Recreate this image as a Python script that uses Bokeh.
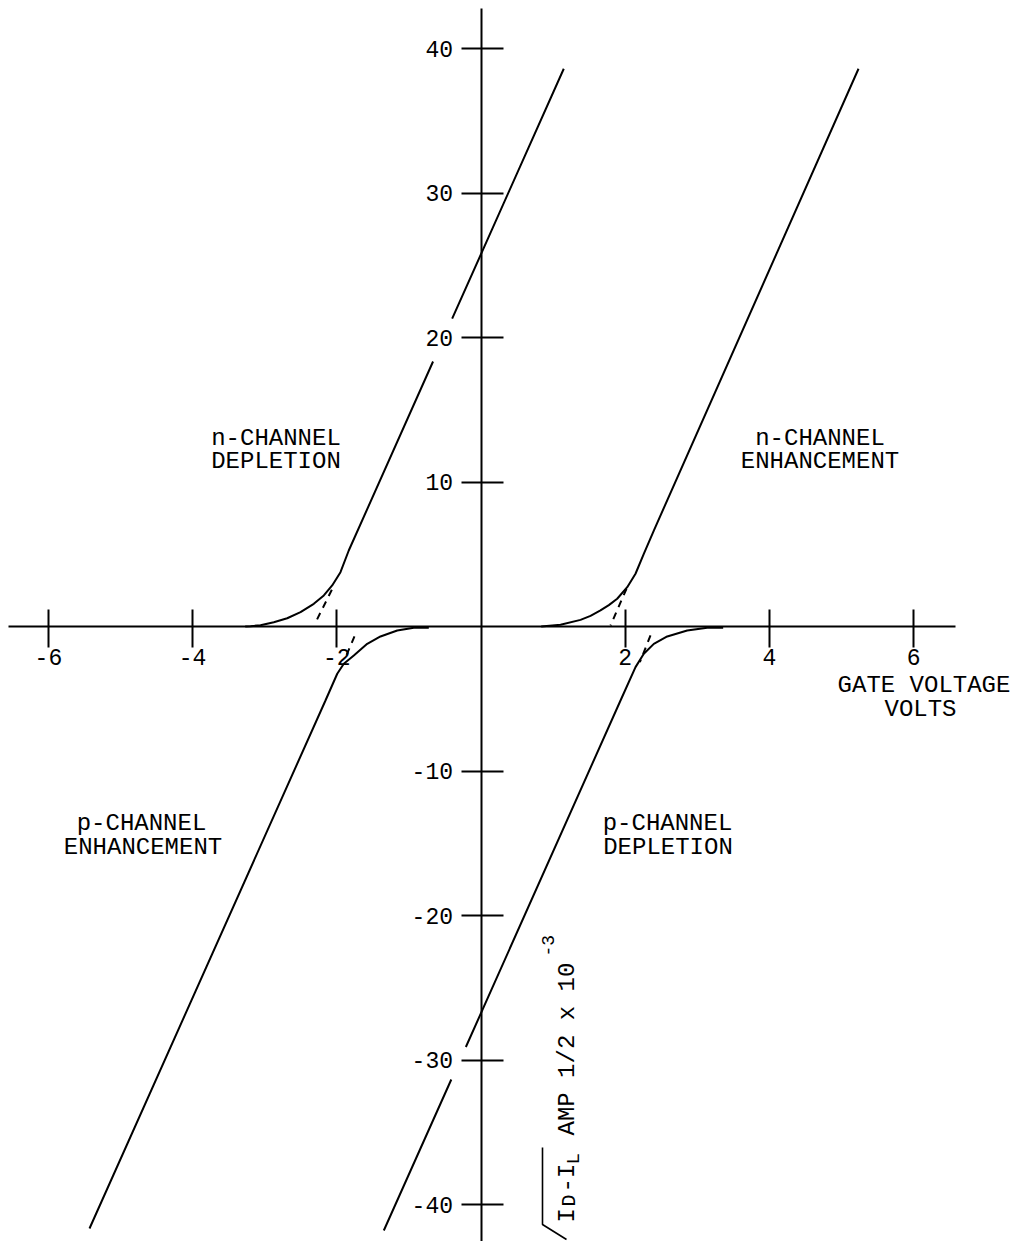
import numpy as np
from bokeh.plotting import figure
from bokeh.models import Range1d, LinearAxis, FixedTicker, Label
from bokeh.embed import file_html
from bokeh.resources import INLINE

nan = np.nan

# ---- data (gate voltage V, sqrt(ID-IL) amp^1/2 x 1e-3) ----
x_ticks = [-6, -4, -2, 2, 4, 6]
x_tick_labels = ["-6", "-4", "-2", "2", "4", "6"]
y_ticks = [-40, -30, -20, -10, 10, 20, 30, 40]
y_tick_labels = ["-40", "-30", "-20", "-10", "10", "20", "30", "40"]

# n-channel depletion (upper left)
ndep_x = [-3.27, -3.197, -3.058, -2.874, -2.688, -2.503, -2.319, -2.180, -2.064, -1.949, -1.834, -0.665, nan, -0.40, 1.148]
ndep_y = [0.0, 0.02, 0.09, 0.30, 0.57, 0.99, 1.57, 2.15, 2.84, 3.76, 5.26, 18.34, nan, 21.3, 38.6]
# n-channel enhancement (upper right)
nenh_x = [0.835, 1.103, 1.380, 1.519, 1.657, 1.773, 1.889, 2.028, 2.143, 2.258, 2.397, 5.236]
nenh_y = [0.0, 0.12, 0.46, 0.74, 1.11, 1.48, 1.92, 2.72, 3.65, 5.03, 6.64, 38.6]
# p-channel enhancement (lower left)
penh_x = [-0.724, -0.932, -1.162, -1.394, -1.578, -1.764, -1.903, -1.994, -2.157, -5.43]
penh_y = [-0.09, -0.09, -0.28, -0.69, -1.20, -2.01, -2.58, -3.27, -5.12, -41.66]
# p-channel depletion (lower right)
pdep_x = [3.359, 3.137, 2.860, 2.583, 2.397, 2.258, 2.143, 1.935, -0.21, nan, -0.412, -1.348]
pdep_y = [-0.09, -0.09, -0.28, -0.69, -1.20, -1.89, -2.81, -5.12, -29.1, nan, -31.35, -41.8]

# dashed extrapolations of the straight parts
ext_xs = [[-2.069, -2.309], [2.018, 1.796], [-1.755, -1.883], [2.351, 2.203]]
ext_ys = [[2.54, 0.14], [2.61, 0.07], [-0.69, -2.19], [-0.62, -2.47]]

# ---- figure geometry ----
PXX = 72.1   # px per volt
PXY = 14.45  # px per unit
W, H = 1018, 1241
xs = -480.5 / PXX
xe = xs + W / PXX
ye = 626 / PXY
ys = ye - H / PXY


def X(px):
    return xs + px / PXX


def Y(py):
    return ye - py / PXY


p = figure(width=W, height=H, x_range=Range1d(xs, xe), y_range=Range1d(ys, ye),
           x_axis_type=None, y_axis_type=None, output_backend="svg",
           toolbar_location=None, min_border=0)
p.outline_line_color = None
p.background_fill_color = "white"
p.border_fill_color = "white"

FONT = "Liberation Mono"

xaxis = LinearAxis(fixed_location=0, ticker=FixedTicker(ticks=x_ticks),
                   major_label_overrides={float(t): l for t, l in zip(x_ticks, x_tick_labels)},
                   bounds=(X(8), 6.58), axis_line_width=2, axis_line_color="black",
                   major_tick_line_width=2, major_tick_line_color="black",
                   major_tick_in=17, major_tick_out=21, minor_tick_in=0, minor_tick_out=0,
                   major_label_standoff=1, major_label_text_font=FONT,
                   major_label_text_font_size="23px", major_label_text_color="black")
p.add_layout(xaxis, "below")

yaxis = LinearAxis(fixed_location=0, ticker=FixedTicker(ticks=y_ticks),
                   major_label_overrides={float(t): l for t, l in zip(y_ticks, y_tick_labels)},
                   bounds=(ys, Y(8)),
                   axis_line_width=2, axis_line_color="black",
                   major_tick_line_width=2, major_tick_line_color="black",
                   major_tick_in=22, major_tick_out=20, minor_tick_in=0, minor_tick_out=0,
                   major_label_standoff=8, major_label_text_font=FONT,
                   major_label_text_font_size="23px", major_label_text_color="black")
p.add_layout(yaxis, "left")

for cx, cy in [(ndep_x, ndep_y), (nenh_x, nenh_y), (penh_x, penh_y), (pdep_x, pdep_y)]:
    p.line(np.array(cx, dtype=float), np.array(cy, dtype=float), line_color="black", line_width=2)

p.multi_line(ext_xs, ext_ys, line_color="black", line_width=2, line_dash="7 6")


def lab(text, px, py, align="center", size="24px", angle=0):
    p.add_layout(Label(x=X(px), y=Y(py), text=text, text_font=FONT, text_font_size=size,
                       text_align=align, text_baseline="alphabetic", text_color="black",
                       angle=angle, angle_units="deg"))


# region labels
lab("n-CHANNEL", 275.5, 438)
lab("DEPLETION", 275.5, 461)
lab("n-CHANNEL", 819.5, 438)
lab("ENHANCEMENT", 819.5, 461)
lab("p-CHANNEL", 141, 823)
lab("ENHANCEMENT", 142.5, 847)
lab("p-CHANNEL", 667, 823)
lab("DEPLETION", 667.5, 847)
lab("GATE VOLTAGE", 923.5, 685)
lab("VOLTS", 920, 709)

# vertical axis title: sqrt(ID - IL) AMP 1/2 x 10^-3
lab("I", 567, 1222, align="left", size="24px", angle=90)
lab("D", 569, 1206, align="left", size="20px", angle=90)
lab("-I", 567, 1192, align="left", size="24px", angle=90)
lab("L", 573, 1164, align="left", size="19px", angle=90)
lab("AMP 1/2 x 10", 567, 1135, align="left", size="24px", angle=90)
lab("-3", 547, 956, align="left", size="18px", angle=90)
# radical sign with overbar
p.line([X(542), X(542), X(566)], [Y(1147), Y(1224), Y(1239)], line_color="black", line_width=1.6)

open("out.html", "w").write(file_html(p, INLINE))
